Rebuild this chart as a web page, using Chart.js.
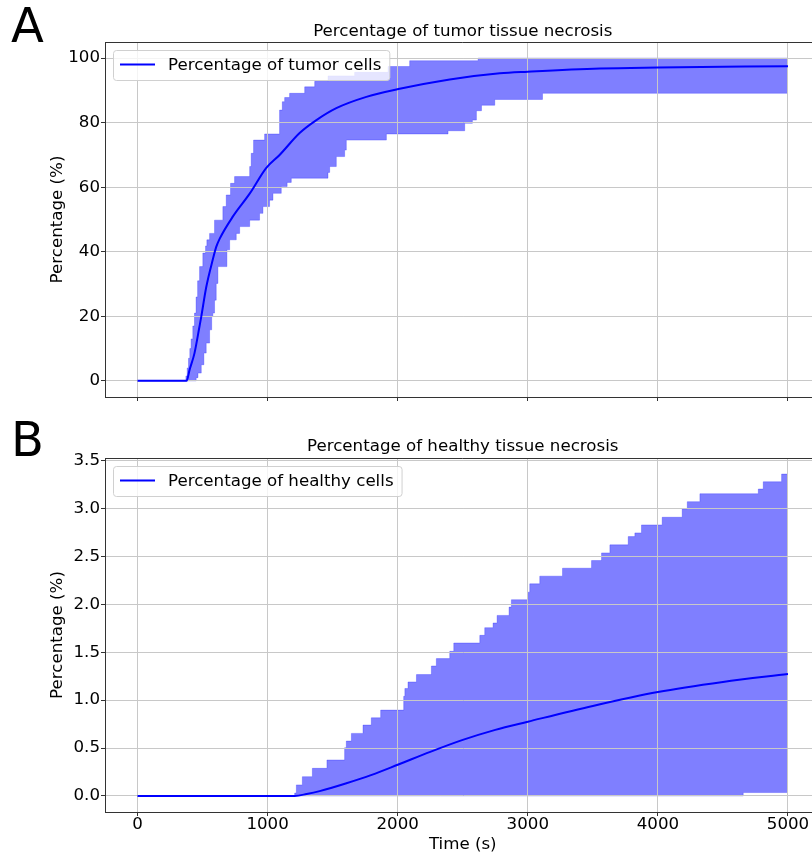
<!DOCTYPE html>
<html>
<head>
<meta charset="utf-8">
<title>Necrosis over time</title>
<script src="https://cdn.jsdelivr.net/npm/chart.js@4.4.1/dist/chart.umd.min.js"></script>
<style>
  html, body { margin: 0; padding: 0; background: #fff; overflow: hidden; }
  #wrap { position: relative; width: 812px; height: 858px; overflow: hidden; }
  canvas { position: absolute; left: 0; }
  #tumorChart { top: 0; }
  #healthyChart { top: 420px; }
</style>
</head>
<body>
<div id="wrap">
  <canvas id="tumorChart" width="840" height="420"></canvas>
  <canvas id="healthyChart" width="840" height="438"></canvas>
</div>
<script>
// shared time axis (s)
const timeTicks = [0, 1000, 2000, 3000, 4000, 5000];

// A - tumor tissue: mean curve
const tumorTime = [0, 377, 400, 438, 477, 490, 528, 578, 605, 631, 731, 862, 990, 1092, 1246, 1375, 1528, 1759, 2015, 2400, 2785, 3000, 3554, 4000, 5000];
const tumorMean = [0, 0, 3.4, 8.6, 17.0, 19.9, 29.0, 37.5, 41.5, 44.0, 50.8, 58.0, 66.0, 70.0, 76.8, 80.8, 84.5, 88.0, 90.5, 93.4, 95.3, 95.8, 96.8, 97.1, 97.5];
// A - spread band, upper / lower step edges (level holds from its time to the next)
const tumorUpperTime = [0, 372, 382, 392, 402, 412, 425, 438, 450, 462, 477, 502, 523, 533, 554, 592, 656, 682, 715, 746, 862, 874, 892, 977, 1092, 1113, 1131, 1169, 1285, 1362, 1464, 1669, 1926, 2092, 2618, 5000];
const tumorUpper = [0, 1.5, 4, 7, 10, 13, 17, 21, 26, 31, 35.4, 39.6, 41.8, 43.7, 45.7, 49.8, 54, 57.6, 61.2, 63.3, 66.4, 70.5, 74.6, 76.5, 83.9, 86.5, 87.8, 89.1, 91.1, 92.8, 94.5, 95.6, 97.4, 99.2, 100, 100];
const tumorLowerTime = [0, 451, 465, 490, 510, 528, 554, 570, 579, 592, 605, 618, 687, 708, 759, 785, 862, 938, 964, 1015, 1041, 1105, 1150, 1182, 1464, 1477, 1528, 1592, 1605, 1913, 2387, 2515, 2574, 2605, 2644, 2746, 3113, 5000];
const tumorLower = [0, 1, 2.4, 5, 8.6, 11.7, 15.8, 19.9, 21, 25, 30.2, 35.4, 40.6, 43.7, 45.7, 47.8, 49.8, 51.9, 54, 56, 58.1, 60.2, 61.5, 62.8, 64.6, 66.4, 69.5, 71.5, 74.6, 76.5, 77.5, 79.8, 80.8, 83.7, 85.4, 87.2, 89.1, 89.1];
const tumorTicks = [0, 20, 40, 60, 80, 100];

// B - healthy tissue: mean curve
const healthyTime = [0, 1208, 1300, 1400, 1600, 1800, 2000, 2250, 2500, 2750, 3000, 3500, 4000, 4500, 5000];
const healthyMean = [0, 0, 0.02, 0.05, 0.13, 0.22, 0.325, 0.46, 0.585, 0.69, 0.775, 0.94, 1.085, 1.19, 1.274];
// B - spread band
const healthyUpperTime = [0, 1208, 1221, 1267, 1344, 1456, 1592, 1605, 1644, 1733, 1797, 1869, 2046, 2055, 2079, 2144, 2259, 2297, 2400, 2431, 2631, 2669, 2733, 2764, 2856, 2874, 3003, 3015, 3092, 3267, 3490, 3567, 3631, 3772, 3823, 3874, 4033, 4187, 4226, 4323, 4772, 4810, 4951, 5000];
const healthyUpper = [0, 0.03, 0.115, 0.201, 0.288, 0.375, 0.503, 0.573, 0.653, 0.740, 0.816, 0.896, 1.04, 1.122, 1.19, 1.267, 1.357, 1.434, 1.51, 1.597, 1.677, 1.757, 1.806, 1.885, 1.972, 2.049, 2.128, 2.215, 2.295, 2.378, 2.458, 2.538, 2.622, 2.708, 2.747, 2.830, 2.910, 2.997, 3.073, 3.156, 3.205, 3.281, 3.361, 3.361];
const healthyLowerTime = [0, 4656, 5000];
const healthyLower = [0, 0.035, 0.035];
const healthyTicks = [0, 0.5, 1, 1.5, 2, 2.5, 3, 3.5];

const FONT = 'DejaVu Sans';
const FS = 16.67;
const gridColor = '#c8c8c8';
const axisColor = '#333';
const bandFill = 'rgba(0, 0, 255, 0.5)';
const bandEdge = 'rgba(0, 0, 255, 0.25)';

Chart.defaults.font.family = FONT;
Chart.defaults.font.size = FS;
Chart.defaults.color = '#000';

const pts = (xs, ys) => xs.map((x, i) => ({ x: x, y: ys[i] }));

// 5% margin on each side, like matplotlib autoscale
function padded(values) {
  const lo = Math.min(...values), hi = Math.max(...values);
  const m = (hi - lo) * 0.05;
  return [lo - m, hi + m];
}

// title, panel letter, top/right frame and the legend box
const panelDecor = {
  id: 'panelDecor',
  beforeDatasetDraw(chart, args) {
    // grid goes over the band but under the mean line
    if (args.index === 0) {
      chart.scales.x.drawGrid(chart.chartArea);
      chart.scales.y.drawGrid(chart.chartArea);
    }
  },
  afterDraw(chart, args, opts) {
    const ctx = chart.ctx;
    const a = chart.chartArea;
    ctx.save();

    ctx.strokeStyle = axisColor;
    ctx.lineWidth = 1;
    ctx.beginPath();
    ctx.moveTo(a.left, Math.round(a.top) + 0.5);
    ctx.lineTo(a.right, Math.round(a.top) + 0.5);
    ctx.lineTo(Math.round(a.right) - 0.5, a.bottom);
    ctx.stroke();

    ctx.fillStyle = '#000';
    ctx.textAlign = 'center';
    ctx.textBaseline = 'alphabetic';
    ctx.font = FS + 'px "' + FONT + '"';
    ctx.fillText(opts.title, (a.left + a.right) / 2, opts.titleY);

    ctx.textAlign = 'left';
    ctx.font = '48px "' + FONT + '"';
    ctx.fillText(opts.letter, 11, opts.letterY);

    // legend
    ctx.font = FS + 'px "' + FONT + '"';
    const lx = a.left + 8, ly = a.top + 8;
    const tw = ctx.measureText(opts.label).width;
    const w = 55 + tw + 8, h = 30;
    ctx.beginPath();
    ctx.roundRect(lx + 0.5, ly + 0.5, w, h, 3);
    ctx.fillStyle = 'rgba(255, 255, 255, 0.8)';
    ctx.fill();
    ctx.strokeStyle = '#d0d0d0';
    ctx.stroke();
    ctx.beginPath();
    ctx.moveTo(lx + 7, ly + 14.5);
    ctx.lineTo(lx + 42, ly + 14.5);
    ctx.strokeStyle = '#0000ff';
    ctx.lineWidth = 2;
    ctx.stroke();
    ctx.fillStyle = '#000';
    ctx.textBaseline = 'middle';
    ctx.fillText(opts.label, lx + 55, ly + 15.5);
    ctx.restore();
  }
};

function makePanel(id, p) {
  const xr = padded(timeTicks);
  const yr = padded(p.mean.concat(p.upper, p.lower));
  return new Chart(document.getElementById(id), {
    type: 'line',
    data: {
      datasets: [
        {
          label: p.label,
          data: pts(p.time, p.mean),
          borderColor: '#0000ff',
          borderWidth: 2,
          pointRadius: 0,
          cubicInterpolationMode: 'monotone',
          fill: false
        },
        {
          label: 'max',
          data: pts(p.upperTime, p.upper),
          stepped: 'before',
          borderColor: bandEdge,
          borderWidth: 1,
          backgroundColor: bandFill,
          pointRadius: 0,
          fill: '+1'
        },
        {
          label: 'min',
          data: pts(p.lowerTime, p.lower),
          stepped: 'before',
          borderColor: bandEdge,
          borderWidth: 1,
          pointRadius: 0,
          fill: false
        }
      ]
    },
    options: {
      responsive: false,
      animation: false,
      layout: { padding: { top: p.top, left: 0, right: 19.5, bottom: 0 } },
      plugins: {
        legend: { display: false },
        tooltip: { enabled: false },
        panelDecor: { title: p.title, titleY: p.titleY, letter: p.letter, letterY: p.letterY, label: p.label }
      },
      scales: {
        x: {
          type: 'linear',
          min: xr[0],
          max: xr[1],
          afterBuildTicks: s => { s.ticks = timeTicks.map(v => ({ value: v })); },
          afterFit: s => { s.height = p.xHeight; },
          grid: { color: gridColor, tickColor: axisColor, tickLength: 4 },
          border: { color: axisColor, width: 1 },
          ticks: { display: p.showX, padding: -1, maxRotation: 0, autoSkip: false, callback: v => String(v) },
          title: { display: p.showX, text: 'Time (s)', padding: { top: 0, bottom: 3 } }
        },
        y: {
          min: yr[0],
          max: yr[1],
          afterBuildTicks: s => { s.ticks = p.ticks.map(v => ({ value: v })); },
          afterFit: s => { s.width = 105; },
          grid: { color: gridColor, tickColor: axisColor, tickLength: 4 },
          border: { color: axisColor, width: 1 },
          ticks: { padding: 1, callback: p.fmt },
          title: { display: true, text: 'Percentage (%)', padding: { top: 48, bottom: 0 } }
        }
      }
    },
    plugins: [panelDecor]
  });
}

makePanel('tumorChart', {
  letter: 'A', letterY: 42,
  title: 'Percentage of tumor tissue necrosis', titleY: 36,
  label: 'Percentage of tumor cells',
  time: tumorTime, mean: tumorMean,
  upperTime: tumorUpperTime, upper: tumorUpper,
  lowerTime: tumorLowerTime, lower: tumorLower,
  ticks: tumorTicks, fmt: v => String(v),
  top: 42, xHeight: 23, showX: false
});

makePanel('healthyChart', {
  letter: 'B', letterY: 36,
  title: 'Percentage of healthy tissue necrosis', titleY: 31,
  label: 'Percentage of healthy cells',
  time: healthyTime, mean: healthyMean,
  upperTime: healthyUpperTime, upper: healthyUpper,
  lowerTime: healthyLowerTime, lower: healthyLower,
  ticks: healthyTicks, fmt: v => v.toFixed(1),
  top: 38, xHeight: 46, showX: true
});
</script>
</body>
</html>
